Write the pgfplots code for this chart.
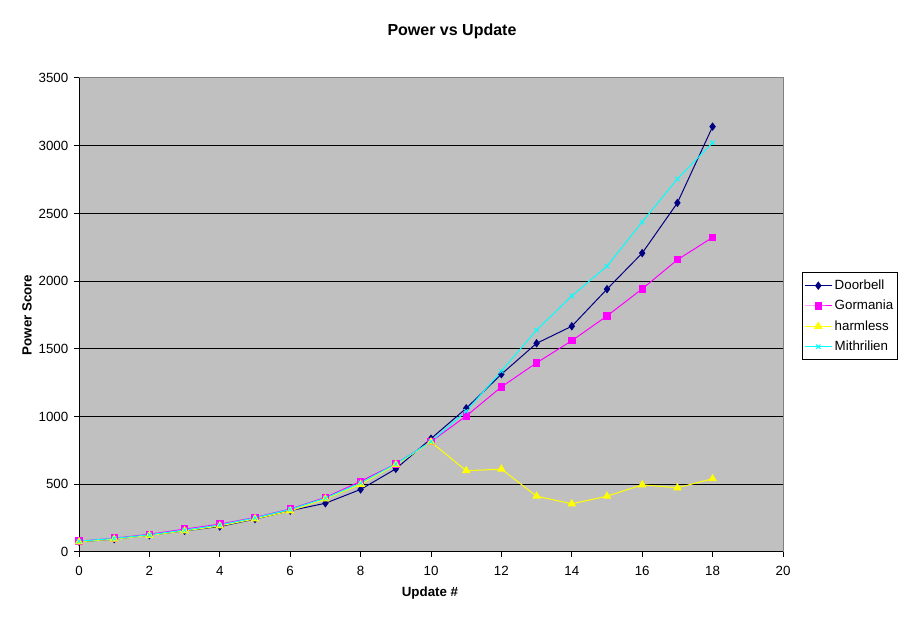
\documentclass[border=0pt]{standalone}
\usepackage{pgfplots}
\pgfplotsset{compat=1.18}
\usepackage{fontspec}
\setmainfont{Liberation Sans}
\definecolor{plotgray}{HTML}{C0C0C0}
\definecolor{bordergray}{HTML}{808080}
\definecolor{navyc}{HTML}{000080}
\definecolor{magc}{HTML}{FF00FF}
\definecolor{yelc}{HTML}{FFFF00}
\definecolor{cyac}{HTML}{00FFFF}
\begin{document}
\begin{tikzpicture}
\useasboundingbox (0,0) rectangle (680.25pt,465.75pt);
\begin{axis}[
  at={(59.25pt,51.75pt)}, anchor=south west,
  width=528pt, height=355.5pt, scale only axis,
  xmin=0, xmax=20, ymin=0, ymax=3500,
  xtick={0,2,...,20}, ytick={0,500,...,3500},
  minor tick num=0,
  tick align=outside, xtick pos=bottom, ytick pos=left,
  major tick length=3.5pt,
  tick style={black, line width=0.75pt},
  axis background/.style={fill=plotgray},
  axis line style={bordergray, line width=0.75pt},
  ymajorgrids, grid style={black, line width=0.75pt},
  xmajorgrids=false,
  scaled y ticks=false,
  /pgf/number format/1000 sep={},
  /pgf/number format/assume math mode=true,
  tick label style={font=\fontsize{10}{12}\selectfont},
  xticklabel style={yshift=-3.5pt},
  yticklabel style={xshift=-1pt},
  legend style={at={(1.027,0.5907)}, anchor=north west, draw=black, line width=0.75pt,
    font=\fontsize{10}{12}\selectfont, row sep=2.5pt, inner xsep=1.5pt, inner ysep=3.5pt,
    nodes={inner xsep=2pt}},
  legend cell align=left,
  legend image code/.code={\draw[mark repeat=2,mark phase=2,#1] plot coordinates {(0cm,0cm) (0.35cm,0cm) (0.7cm,0cm)};},
  clip=false,
]
\addplot[navyc, line width=0.75pt, mark=diamond*, mark size=2.6pt, mark options={fill=navyc,draw=navyc}] coordinates {
(0,75) (1,95) (2,124) (3,156) (4,188) (5,243) (6,305) (7,360) (8,462) (9,614) (10,837) (11,1061) (12,1313) (13,1541) (14,1667) (15,1941) (16,2207) (17,2578) (18,3141)};
\addlegendentry{Doorbell}
\addplot[magc, line width=0.75pt, mark=square*, mark size=2.4pt, mark options={fill=magc,draw=magc}] coordinates {
(0,80) (1,102) (2,131) (3,169) (4,206) (5,255) (6,318) (7,403) (8,522) (9,651) (10,815) (11,1004) (12,1219) (13,1397) (14,1560) (15,1743) (16,1943) (17,2158) (18,2323)};
\addlegendentry{Gormania}
\addplot[yelc, line width=0.75pt, mark=triangle*, mark size=3pt, mark options={fill=yelc,draw=yelc}] coordinates {
(0,75) (1,95) (2,122) (3,156) (4,192) (5,245) (6,303) (7,392) (8,500) (9,645) (10,812) (11,600) (12,612) (13,412) (14,356) (15,412) (16,496) (17,474) (18,541)};
\addlegendentry{harmless}
\addplot[cyac, line width=0.75pt, mark=x, mark size=2.3pt, mark options={draw=cyac,line width=0.7pt}] coordinates {
(0,80) (1,100) (2,127) (3,162) (4,200) (5,252) (6,315) (7,398) (8,510) (9,650) (10,815) (11,1040) (12,1335) (13,1639) (14,1891) (15,2111) (16,2437) (17,2755) (18,3022)};
\addlegendentry{Mithrilien}
\draw[black, line width=0.75pt] (rel axis cs:0,1) -- (rel axis cs:0,0) -- (rel axis cs:1,0);
\end{axis}
\node[font=\fontsize{12}{14}\selectfont\bfseries] at (339pt,442.5pt) {Power vs Update};
\node[font=\fontsize{10}{12}\selectfont\bfseries] at (322.5pt,21pt) {Update \#};
\node[font=\fontsize{10}{12}\selectfont\bfseries, rotate=90] at (20.25pt,229.5pt) {Power Score};
\end{tikzpicture}
\end{document}
